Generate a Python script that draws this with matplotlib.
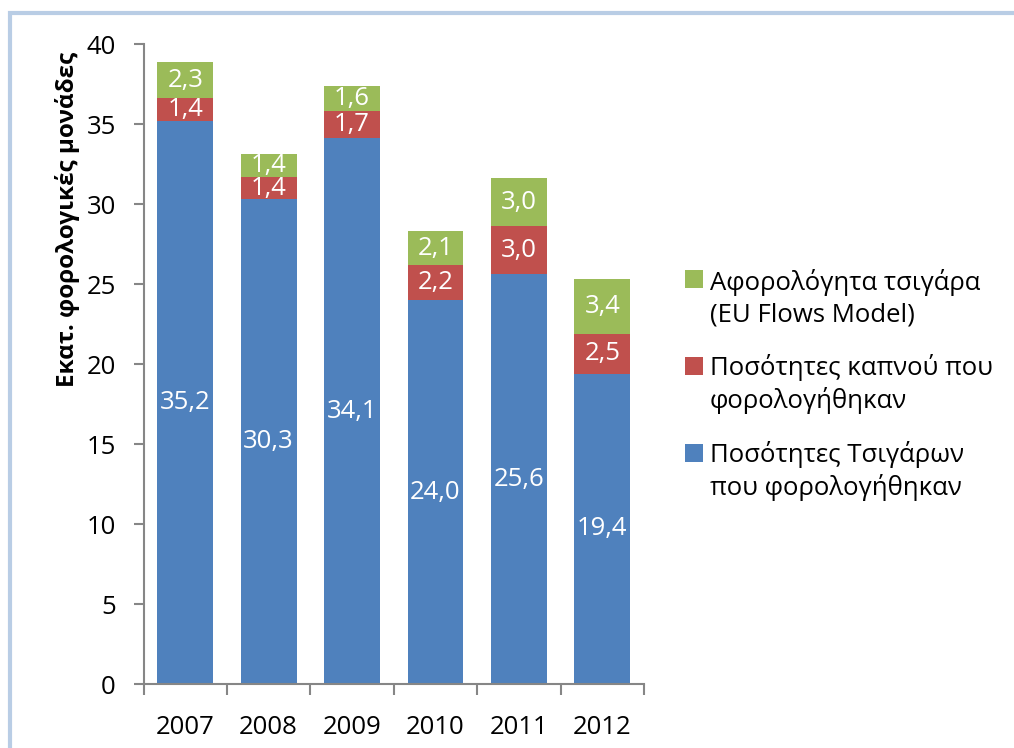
import numpy as np
import matplotlib
matplotlib.use("Agg")
import matplotlib.pyplot as plt
from matplotlib.patches import Rectangle

# data
years = ["2007", "2008", "2009", "2010", "2011", "2012"]
taxed_cigs = [35.2, 30.3, 34.1, 24.0, 25.6, 19.4]
taxed_tobacco = [1.4, 1.4, 1.7, 2.2, 3.0, 2.5]
untaxed_cigs = [2.3, 1.4, 1.6, 2.1, 3.0, 3.4]

series_labels = [
    "Ποσότητες Τσιγάρων\nπου φορολογήθηκαν",
    "Ποσότητες καπνού που\nφορολογήθηκαν",
    "Αφορολόγητα τσιγάρα\n(EU Flows Model)",
]
colors = ["#4F81BD", "#C0504D", "#9BBB59"]
y_ticks = [0, 5, 10, 15, 20, 25, 30, 35, 40]

plt.rcParams['font.family'] = ['Open Sans', 'DejaVu Sans']
FS = 18.5

W, H = 1014, 748
fig = plt.figure(figsize=(W / 100, H / 100), dpi=100)
ax = fig.add_axes([143.5 / W, 1 - 684 / H, 500.5 / W, 640 / H])

x = np.arange(len(years))
bottom = np.zeros(len(years))
for vals, col in zip([taxed_cigs, taxed_tobacco, untaxed_cigs], colors):
    vals = np.array(vals)
    bars = ax.bar(x, vals, width=0.67, bottom=bottom, color=col, zorder=2)
    for b, v, b0 in zip(bars, vals, bottom):
        ax.text(b.get_x() + b.get_width() / 2, b0 + v / 2,
                f"{v:.1f}".replace(".", ","), ha="center", va="center",
                color="white", fontsize=FS, zorder=3)
    bottom = bottom + vals

ax.set_xlim(-0.5, len(years) - 0.5)
ax.set_ylim(0, 40)
ax.set_yticks(y_ticks)
ax.set_xticks(x)
ax.set_xticklabels(years)
ax.set_xticks(np.arange(len(years) + 1) - 0.5, minor=True)

spine_col = "#868686"
for s in ["top", "right"]:
    ax.spines[s].set_visible(False)
for s in ["left", "bottom"]:
    ax.spines[s].set_color(spine_col)
    ax.spines[s].set_linewidth(1.5)

ax.tick_params(axis="y", direction="out", length=7, width=1.5, color=spine_col,
               labelsize=FS, pad=13, labelcolor="black")
ax.tick_params(axis="x", which="major", length=0, labelsize=FS, pad=22,
               labelcolor="black")
ax.tick_params(axis="x", which="minor", direction="out", length=8, width=1.5,
               color=spine_col)

ax.set_ylabel("Εκατ. φορολογικές μονάδες", fontsize=17.5, fontweight="bold")
ax.yaxis.set_label_coords((80 - 143.5) / 500.5, (684 - 219) / 640)

# manual legend, squares level with first text line
leg_base = [462, 375, 288]
line_gap = 33
for lab, col, yb in zip(series_labels, colors, leg_base):
    fig.add_artist(Rectangle((685 / W, 1 - yb / H), 18 / W, 18 / H,
                             transform=fig.transFigure, facecolor=col,
                             edgecolor="none"))
    # baseline alignment uses the last line of a multi-line text
    fig.text(710 / W, 1 - (yb + line_gap) / H, lab, ha="left", va="baseline",
             fontsize=FS, linespacing=1.3)

# light blue chart-area border
fig.add_artist(Rectangle((10 / W, -0.1), 1.2, 1 - 13 / H + 0.1,
                         transform=fig.transFigure, facecolor="none",
                         edgecolor="#B9CDE5", linewidth=3, clip_on=False))

fig.savefig("out.png", dpi=100)
